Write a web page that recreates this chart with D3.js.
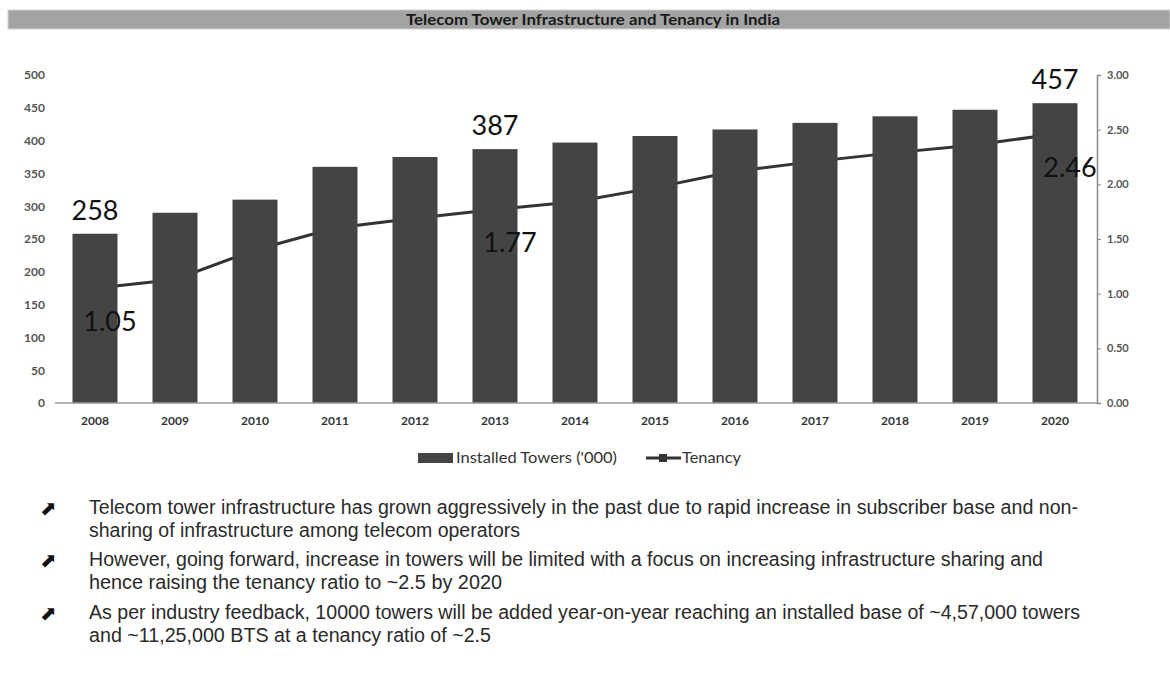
<html>
<script src='https://d3js.org/d3.v7.min.js'></script>
<style>
body {margin: 0; background: white;}
.tick line {stroke: #888;}
</style>
<body>
<svg width=1170 height=677></svg>
<script>
var years = ["2008","2009","2010","2011","2012","2013","2014","2015","2016","2017","2018","2019","2020"]
var towers = [258, 290, 310, 360, 375, 387, 397, 407, 417, 427, 437, 447, 457]
var tenancy = [1.05, 1.13, 1.40, 1.60, 1.69, 1.77, 1.84, 1.97, 2.12, 2.21, 2.29, 2.36, 2.46]
var towerTicks = [0, 50, 100, 150, 200, 250, 300, 350, 400, 450, 500]
var tenancyTicks = [0, 0.5, 1, 1.5, 2, 2.5, 3]
var labelled = ["2008", "2013", "2020"]
var bullets = [
  ["Telecom tower infrastructure has grown aggressively in the past due to rapid increase in subscriber base and non-",
   "sharing of infrastructure among telecom operators"],
  ["However, going forward, increase in towers will be limited with a focus on increasing infrastructure sharing and",
   "hence raising the tenancy ratio to ~2.5 by 2020"],
  ["As per industry feedback, 10000 towers will be added year-on-year reaching an installed base of ~4,57,000 towers",
   "and ~11,25,000 BTS at a tenancy ratio of ~2.5"]
]
// line widths as set in the original slide
var bulletWidths = [[989, 431], [954, 413], [991, 402]]

var svg = d3.select("svg")
var lato = "Lato, sans-serif"

// title band
svg.append("rect").attr("x", 8).attr("y", 10).attr("width", 1162).attr("height", 19)
  .attr("fill", "#a3a3a3").attr("stroke", "#d0d0d0")
svg.append("text").attr("x", 406).attr("y", 24.5)
  .style("font-family", lato).attr("font-size", 15).attr("font-weight", "bold").attr("fill", "#1a1a1a")
  .attr("textLength", 374).attr("lengthAdjust", "spacingAndGlyphs")
  .text("Telecom Tower Infrastructure and Tenancy in India")

var x = d3.scaleBand().domain(years).range([55, 1095]).paddingInner(0.4375).paddingOuter(0.21875)
var y = d3.scaleLinear().domain([0, 500]).range([403, 75])
var y2 = d3.scaleLinear().domain([0, 3]).range([403, 75])
var cx = function(d) { return x(d) + x.bandwidth() / 2 }

// tenancy line (sits behind the bars)
var line = d3.line().x(function(d, i) { return cx(years[i]) }).y(function(d) { return y2(d) })
svg.append("path").datum(tenancy).attr("d", line)
  .attr("fill", "none").attr("stroke", "#333").attr("stroke-width", 3)

svg.append("g").selectAll("rect").data(years).enter().append("rect")
  .attr("x", function(d) { return x(d) })
  .attr("y", function(d, i) { return y(towers[i]) })
  .attr("width", x.bandwidth())
  .attr("height", function(d, i) { return y(0) - y(towers[i]) })
  .attr("fill", "#444")

// baseline
svg.append("line").attr("x1", 55).attr("x2", 1097).attr("y1", y(0)).attr("y2", y(0))
  .attr("stroke", "#999").attr("stroke-width", 1.5)

// left axis
var gl = svg.append("g").attr("transform", "translate(55,0)")
  .call(d3.axisLeft(y).tickValues(towerTicks).tickSize(0).tickPadding(10).tickFormat(d3.format("d")))
gl.select(".domain").remove()
gl.selectAll("text").style("font-family", lato).attr("font-size", 12).attr("font-weight", "bold").attr("fill", "#555")

// right axis
var gr = svg.append("g").attr("transform", "translate(1097,0)")
  .call(d3.axisRight(y2).tickValues(tenancyTicks).tickSize(4).tickPadding(6).tickFormat(d3.format(".2f")))
gr.select(".domain").attr("stroke", "#888").attr("stroke-width", 1.5)
gr.selectAll("text").style("font-family", lato).attr("font-size", 11).attr("font-weight", "bold").attr("fill", "#555")

// x axis
var gx = svg.append("g").attr("transform", "translate(0,403)")
  .call(d3.axisBottom(x).tickSize(0).tickPadding(13))
gx.select(".domain").remove()
gx.selectAll("text").style("font-family", lato).attr("font-size", 12).attr("font-weight", "bold").attr("fill", "#333")

// data labels
labelled.forEach(function(yr) {
  var i = years.indexOf(yr)
  svg.append("text").attr("x", cx(yr)).attr("y", y(towers[i]) - 14).attr("text-anchor", "middle")
    .style("font-family", lato).attr("font-size", 27).attr("fill", "#111").text(towers[i])
  svg.append("text").attr("x", cx(yr) + 15).attr("y", y2(tenancy[i]) + 43).attr("text-anchor", "middle")
    .style("font-family", lato).attr("font-size", 27).attr("fill", "#111").text(tenancy[i].toFixed(2))
})

// legend
svg.append("rect").attr("x", 418).attr("y", 453).attr("width", 35).attr("height", 10).attr("fill", "#444")
svg.append("text").attr("x", 456).attr("y", 463).style("font-family", lato).attr("font-size", 15).attr("fill", "#333")
  .attr("textLength", 161).attr("lengthAdjust", "spacingAndGlyphs").text("Installed Towers ('000)")
svg.append("line").attr("x1", 646).attr("x2", 681).attr("y1", 458).attr("y2", 458).attr("stroke", "#333").attr("stroke-width", 3)
svg.append("rect").attr("x", 659).attr("y", 454).attr("width", 8).attr("height", 8).attr("fill", "#333")
svg.append("text").attr("x", 682).attr("y", 463).style("font-family", lato).attr("font-size", 15).attr("fill", "#333")
  .attr("textLength", 59).attr("lengthAdjust", "spacingAndGlyphs").text("Tenancy")

// bullet notes
var by = [514, 566, 619]
bullets.forEach(function(b, i) {
  svg.append("text").attr("x", 40).attr("y", by[i] + 1).style("font-family", "DejaVu Sans").attr("font-size", 20)
    .attr("fill", "#111").text("\u2B08")
  b.forEach(function(t, j) {
    svg.append("text").attr("x", 89).attr("y", by[i] + j * 23).style("font-family", "Liberation Sans")
      .attr("font-size", 20).attr("fill", "#2a2a2a")
      .attr("textLength", bulletWidths[i][j]).attr("lengthAdjust", "spacingAndGlyphs").text(t)
  })
})
</script>
</body>
</html>
